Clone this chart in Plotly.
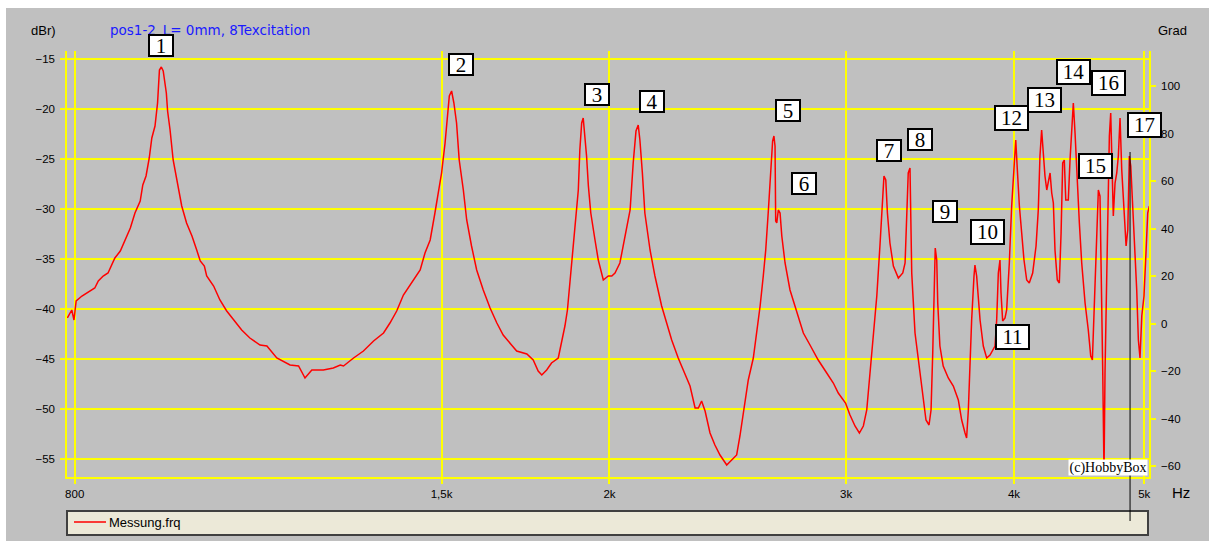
import math
import plotly.graph_objects as go

# ---------------- data ----------------
freq_hz = [
    790, 796, 799, 802, 810, 821, 828, 833, 840, 847,
    852, 857, 865, 872, 880, 887, 895, 899, 904, 909,
    913, 918, 922, 925, 928, 931, 936, 938, 942, 947,
    953, 961, 969, 978, 986, 992, 999, 1003, 1015, 1026,
    1038, 1050, 1065, 1080, 1099, 1112, 1131, 1157, 1174, 1187,
    1201, 1225, 1246, 1261, 1268, 1290, 1312, 1335, 1358, 1373,
    1389, 1405, 1425, 1446, 1458, 1471, 1483, 1492, 1500, 1509,
    1515, 1520, 1526, 1532, 1539, 1546, 1557, 1566, 1579, 1593,
    1611, 1630, 1649, 1667, 1691, 1706, 1736, 1755, 1770, 1781,
    1796, 1811, 1832, 1843, 1853, 1861, 1869, 1880, 1888, 1896,
    1901, 1907, 1912, 1918, 1923, 1929, 1937, 1951, 1962, 1979,
    1996, 2008, 2019, 2036, 2054, 2072, 2083, 2093, 2101, 2107,
    2116, 2125, 2144, 2162, 2187, 2206, 2225, 2250, 2276, 2296,
    2316, 2329, 2342, 2356, 2376, 2396, 2417, 2445, 2466, 2487,
    2501, 2519, 2537, 2559, 2574, 2589, 2603, 2614, 2626, 2636,
    2645, 2651, 2656, 2659, 2664, 2671, 2679, 2687, 2702, 2725,
    2757, 2788, 2820, 2860, 2902, 2935, 2960, 2997, 3020, 3046,
    3069, 3090, 3108, 3125, 3143, 3162, 3179, 3192, 3201, 3211,
    3220, 3234, 3253, 3281, 3306, 3319, 3328, 3337, 3347, 3351,
    3357, 3376, 3405, 3424, 3440, 3458, 3470, 3480, 3489, 3495,
    3504, 3510, 3523, 3543, 3574, 3605, 3636, 3657, 3678, 3688,
    3699, 3709, 3720, 3735, 3741, 3752, 3774, 3795, 3817, 3839,
    3872, 3883, 3894, 3905, 3912, 3923, 3939, 3950, 3968, 3984,
    4000, 4012, 4023, 4037, 4053, 4069, 4088, 4106, 4130, 4154,
    4170, 4182, 4194, 4206, 4218, 4231, 4242, 4255, 4267, 4279,
    4291, 4308, 4323, 4336, 4348, 4360, 4371, 4390, 4403, 4416,
    4428, 4441, 4459, 4474, 4492, 4518, 4543, 4562, 4575, 4588,
    4609, 4622, 4635, 4643, 4657, 4667, 4675, 4689, 4702, 4710,
    4721, 4732, 4742, 4756, 4770, 4783, 4797, 4811, 4830, 4847,
    4861, 4874, 4886, 4903, 4922, 4936, 4950, 4964, 4979, 4998,
    5015, 5030, 5044,
]

level_dbr = [
    -40.9, -40.1, -41.1, -39.2, -38.7, -38.2, -37.9, -37.2, -36.7, -36.4,
    -35.6, -34.9, -34.2, -33.2, -31.9, -30.4, -29.2, -27.6, -26.7, -24.9,
    -22.9, -21.7, -19.4, -16.1, -15.8, -16.2, -18.4, -20.2, -22.1, -25.1,
    -27.2, -29.7, -31.4, -32.7, -34.1, -35.2, -35.7, -36.7, -37.7, -39.1,
    -40.2, -41.1, -42.1, -42.9, -43.6, -43.7, -44.9, -45.6, -45.7, -46.9,
    -46.1, -46.1, -45.9, -45.6, -45.7, -44.9, -44.2, -43.2, -42.4, -41.4,
    -40.2, -38.6, -37.4, -36.1, -34.4, -33.1, -30.4, -28.4, -26.4, -23.4,
    -20.7, -18.7, -18.2, -19.4, -21.4, -25.1, -28.1, -31.1, -33.7, -36.1,
    -38.1, -39.9, -41.4, -42.6, -43.6, -44.2, -44.5, -45.1, -46.2, -46.6,
    -46.1, -45.4, -44.9, -43.2, -41.7, -40.1, -37.4, -34.1, -31.1, -28.1,
    -24.1, -21.4, -20.9, -22.7, -24.7, -27.7, -30.4, -33.1, -35.1, -37.1,
    -36.7, -36.7, -36.4, -35.4, -32.7, -30.1, -25.4, -22.2, -21.6, -23.1,
    -26.4, -30.4, -34.1, -36.7, -39.7, -41.4, -43.1, -44.9, -46.6, -47.7,
    -49.9, -49.9, -49.2, -50.2, -52.4, -53.6, -54.6, -55.6, -55.1, -54.6,
    -52.7, -49.7, -47.1, -44.9, -42.4, -39.7, -36.7, -34.1, -30.1, -26.1,
    -23.2, -22.7, -23.7, -31.2, -31.4, -30.1, -30.4, -32.7, -35.4, -38.1,
    -40.4, -42.4, -43.6, -45.1, -46.4, -47.4, -48.4, -49.4, -50.6, -51.7,
    -52.4, -51.7, -50.1, -46.4, -42.4, -38.7, -33.7, -30.1, -26.7, -27.1,
    -30.4, -33.4, -35.7, -36.9, -36.4, -35.4, -30.4, -26.4, -25.9, -30.4,
    -36.4, -42.4, -46.4, -49.1, -51.1, -51.6, -50.1, -44.4, -38.4, -33.9,
    -35.1, -39.4, -43.7, -45.7, -46.9, -47.7, -49.1, -51.1, -52.4, -52.9,
    -50.1, -45.7, -41.1, -36.7, -35.6, -36.7, -41.1, -43.7, -44.9, -44.6,
    -43.7, -41.1, -36.4, -35.1, -38.4, -41.2, -40.9, -40.1, -35.4, -29.7,
    -26.1, -23.1, -26.1, -29.7, -32.4, -35.1, -37.1, -37.4, -36.4, -33.7,
    -30.1, -24.7, -22.1, -24.7, -26.7, -28.1, -27.1, -26.4, -28.4, -29.4,
    -34.1, -37.1, -37.4, -32.4, -25.4, -25.1, -29.1, -29.1, -25.1, -21.4,
    -19.4, -22.4, -28.1, -31.4, -35.4, -39.4, -42.1, -44.7, -45.1, -40.1,
    -34.1, -28.1, -28.7, -37.4, -46.4, -56.4, -46.4, -36.7, -28.1, -22.7,
    -20.4, -24.7, -30.7, -27.4, -26.4, -24.7, -20.9, -26.1, -29.7, -33.7,
    -32.1, -24.7, -25.7, -29.7, -34.1, -38.1, -43.1, -44.9, -40.7, -38.7,
    -34.4, -30.4, -29.7,
]

x_tick_vals = [800, 1500, 2000, 3000, 4000, 5000]
x_tick_text = ["800", "1,5k", "2k", "3k", "4k", "5k"]
y_tick_vals = [-15, -20, -25, -30, -35, -40, -45, -50, -55]
grad_tick_vals = [-60, -40, -20, 0, 20, 40, 60, 80, 100]
marker_labels = [str(i) for i in range(1, 18)]
cursor_hz = 4880
series_name = "Messung.frq"
title_text = "pos1-2_L= 0mm, 8Texcitation"

# ---------------- layout helpers ----------------
W, H = 1209, 541
PL, PR, PT, PB = 67, 1149, 51, 477  # plot area in pixels


def px(xp):
    return (xp - PL) / (PR - PL)


def py(yp):
    return (PB - yp) / (PB - PT)


# label box centres (pixels)
label_pos = [
    (160.5, 45), (461, 64.5), (597, 94), (652, 101.5), (788, 110),
    (803.5, 184), (888.5, 150.5), (920, 139), (944.5, 211), (987.5, 232),
    (1012.5, 336.5), (1011.5, 118), (1044.5, 100), (1073, 72),
    (1095.5, 166), (1108.5, 83), (1144.5, 125),
]

YELLOW = "#FFFF00"
GREY = "#C0C0C0"
RED = "#FF0000"

fig = go.Figure()
fig.add_trace(go.Scatter(
    x=freq_hz, y=level_dbr, mode="lines", name=series_name,
    line=dict(color=RED, width=1.5), showlegend=False,
))
fig.add_trace(go.Scatter(x=[], y=[], yaxis="y2", showlegend=False,
                         hoverinfo="skip"))

tickfont = dict(family="Arial", size=11.5, color="#000000")
axis_common = dict(
    showline=True, linecolor=YELLOW, linewidth=1.5,
    ticks="outside", ticklen=5, tickcolor=YELLOW, tickwidth=1.5,
    tickfont=tickfont, zeroline=False, automargin=False,
)

fig.update_layout(
    width=W, height=H,
    margin=dict(l=PL, r=W - PR, t=PT, b=H - PB, pad=0),
    paper_bgcolor="#FFFFFF",
    plot_bgcolor="rgba(0,0,0,0)",
    showlegend=False,
    xaxis=dict(
        type="log",
        range=[math.log10(789.5), math.log10(5041)],
        tickvals=x_tick_vals, ticktext=x_tick_text,
        showgrid=True, gridcolor=YELLOW, gridwidth=1.5,
        ticklabelstandoff=0,
        **axis_common,
    ),
    yaxis=dict(
        range=[-56.8, -14.2],
        tickvals=y_tick_vals,
        showgrid=True, gridcolor=YELLOW, gridwidth=1.5,
        ticklabelstandoff=3,
        **axis_common,
    ),
    yaxis2=dict(
        overlaying="y", side="right", anchor="x",
        range=[-64.5, 114.8],
        tickvals=grad_tick_vals,
        showgrid=False,
        ticklabelstandoff=3,
        **axis_common,
    ),
    shapes=[
        # grey window background
        dict(type="rect", xref="paper", yref="paper",
             x0=px(6), x1=px(W + 2), y0=py(8), y1=py(H + 2),
             fillcolor=GREY, line=dict(width=0), layer="below"),
        # legend panel
        dict(type="rect", xref="paper", yref="paper",
             x0=px(67), x1=px(1148), y0=py(511), y1=py(535),
             fillcolor="#ECE9D8", line=dict(color="#404040", width=2),
             layer="below"),
        # legend line sample
        dict(type="line", xref="paper", yref="paper",
             x0=px(74), x1=px(106), y0=py(522), y1=py(522),
             line=dict(color=RED, width=1.5), layer="above"),
        # cursor
        dict(type="line", xref="x", yref="paper",
             x0=cursor_hz, x1=cursor_hz, y0=py(521), y1=py(152),
             line=dict(color="#000000", width=1), layer="above"),
    ],
)


def note(text, xp, yp, xanchor="center", **kw):
    d = dict(text=text, x=px(xp), y=py(yp), xref="paper", yref="paper",
             xanchor=xanchor, yanchor="middle", showarrow=False)
    d.update(kw)
    return d


annotations = [
    note("dBr)", 43, 31, font=dict(family="Arial", size=13, color="#000")),
    note(title_text, 108, 30, xanchor="left",
         font=dict(family="DejaVu Sans", size=13.5, color="#1A1AFF")),
    note("Grad", 1172, 30, font=dict(family="Arial", size=13, color="#000")),
    note("Hz", 1181, 492, font=dict(family="Arial", size=15, color="#000")),
    note(series_name, 107, 522, xanchor="left",
         font=dict(family="Arial", size=13, color="#000")),
    note("(c)HobbyBox", 1108, 467.5, bgcolor="#FFFFFF",
         width=78, height=15, borderpad=0,
         font=dict(family="Liberation Serif", size=14, color="#000")),
]
for lab, (cx, cy) in zip(marker_labels, label_pos):
    wide = len(lab) > 1
    annotations.append(note(
        lab, cx, cy, bgcolor="#FFFFFF", bordercolor="#000000",
        borderwidth=2, borderpad=0,
        width=31 if wide else 22, height=22 if wide else 19,
        font=dict(family="Liberation Serif", size=21, color="#000000"),
    ))
fig.update_layout(annotations=annotations)

fig.write_html("out.html")
